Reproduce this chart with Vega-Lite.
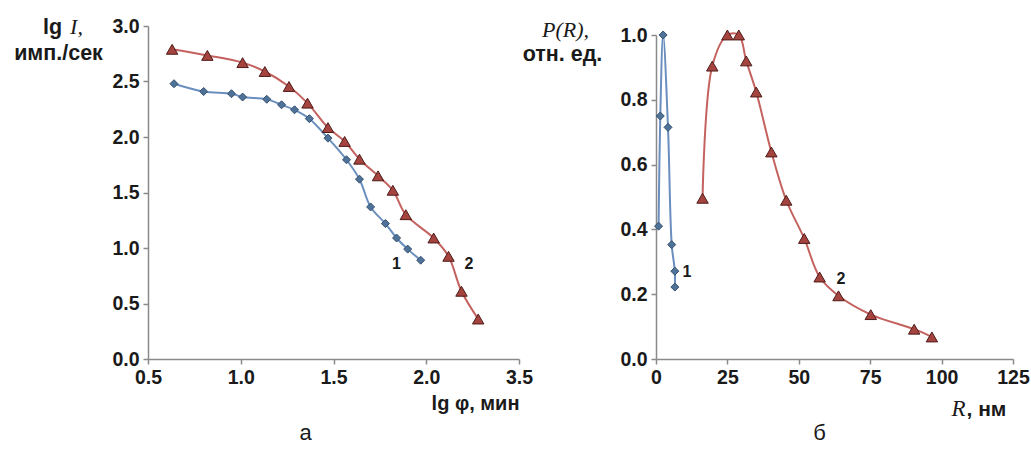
{
  "$schema": "https://vega.github.io/schema/vega-lite/v6.json",
  "background": "white",
  "padding": {"left": 13, "top": 15, "right": 0, "bottom": 0},
  "bounds": "flush",
  "spacing": 137,
  "config": {
    "view": {"stroke": null},
    "axis": {
      "labelFont": "Liberation Sans", "labelFontSize": 19.5, "labelFontWeight": "bold", "labelColor": "#1a1a1a",
      "domainColor": "#8a8a8a", "domainWidth": 1.5, "tickColor": "#8a8a8a", "tickWidth": 1.5, "tickSize": 5,
      "labelPadding": 4, "grid": false, "labelFlush": false, "labelOverlap": false,
      "titleFont": "Liberation Sans", "titleFontSize": 19.5, "titleFontWeight": "bold", "titleColor": "#1a1a1a", "titlePadding": 0
    }
  },
  "hconcat": [
    {
      "width": 371,
      "height": 333,
      "data": {"values": [
        {"s": 1, "o": 1, "x": 0.64, "y": 2.48},
        {"s": 1, "o": 2, "x": 0.80, "y": 2.41},
        {"s": 1, "o": 3, "x": 0.95, "y": 2.39},
        {"s": 1, "o": 4, "x": 1.01, "y": 2.36},
        {"s": 1, "o": 5, "x": 1.14, "y": 2.34},
        {"s": 1, "o": 6, "x": 1.22, "y": 2.29},
        {"s": 1, "o": 7, "x": 1.29, "y": 2.245},
        {"s": 1, "o": 8, "x": 1.37, "y": 2.165},
        {"s": 1, "o": 9, "x": 1.47, "y": 1.99},
        {"s": 1, "o": 10, "x": 1.57, "y": 1.795},
        {"s": 1, "o": 11, "x": 1.64, "y": 1.62},
        {"s": 1, "o": 12, "x": 1.70, "y": 1.37},
        {"s": 1, "o": 13, "x": 1.78, "y": 1.22},
        {"s": 1, "o": 14, "x": 1.84, "y": 1.09},
        {"s": 1, "o": 15, "x": 1.90, "y": 0.99},
        {"s": 1, "o": 16, "x": 1.97, "y": 0.89},
        {"s": 2, "o": 1, "x": 0.63, "y": 2.79},
        {"s": 2, "o": 2, "x": 0.82, "y": 2.735},
        {"s": 2, "o": 3, "x": 1.01, "y": 2.67},
        {"s": 2, "o": 4, "x": 1.13, "y": 2.59},
        {"s": 2, "o": 5, "x": 1.26, "y": 2.455},
        {"s": 2, "o": 6, "x": 1.36, "y": 2.305},
        {"s": 2, "o": 7, "x": 1.47, "y": 2.085},
        {"s": 2, "o": 8, "x": 1.56, "y": 1.96},
        {"s": 2, "o": 9, "x": 1.64, "y": 1.80},
        {"s": 2, "o": 10, "x": 1.74, "y": 1.65},
        {"s": 2, "o": 11, "x": 1.82, "y": 1.52},
        {"s": 2, "o": 12, "x": 1.89, "y": 1.30},
        {"s": 2, "o": 13, "x": 2.04, "y": 1.09},
        {"s": 2, "o": 14, "x": 2.12, "y": 0.925},
        {"s": 2, "o": 15, "x": 2.19, "y": 0.61},
        {"s": 2, "o": 16, "x": 2.28, "y": 0.36}
      ]},
      "resolve": {"axis": {"x": "independent", "y": "independent"}},
      "layer": [
        {
          "transform": [{"filter": "datum.s == 1"}],
          "mark": {"type": "line", "interpolate": "catmull-rom", "color": "#6a8fbe", "strokeWidth": 2},
          "encoding": {
            "x": {"field": "x", "type": "quantitative", "scale": {"domain": [0.5, 2.5], "nice": false, "zero": false},
              "axis": {"orient": "bottom", "values": [0.5, 1, 1.5, 2, 2.5], "labelExpr": "datum.value == 2.5 ? '3.5' : format(datum.value, '.1f')",
                "title": "lg φ, мин", "titleFontSize": 20, "titleX": 371, "titleY": 50, "titleAlign": "right", "titleBaseline": "alphabetic"}},
            "y": {"field": "y", "type": "quantitative", "scale": {"domain": [0, 3], "nice": false, "zero": false},
              "axis": {"orient": "left", "values": [0, 0.5, 1, 1.5, 2, 2.5, 3], "format": ".1f",
                "title": "имп./сек", "titleFontSize": 21.5, "titleAngle": 0, "titleAlign": "center", "titleBaseline": "alphabetic", "titleX": -90, "titleY": 33}},
            "order": {"field": "o", "type": "quantitative"}
          }
        },
        {
          "transform": [{"filter": "datum.s == 2"}],
          "mark": {"type": "line", "interpolate": "catmull-rom", "color": "#c4625f", "strokeWidth": 2},
          "encoding": {
            "x": {"field": "x", "type": "quantitative", "scale": {"domain": [0.5, 2.5], "nice": false, "zero": false},
              "axis": {"orient": "bottom", "domain": false, "ticks": false, "labels": false, "title": "а",
                "titleFontWeight": "normal", "titleFontSize": 22, "titleX": 157, "titleY": 80, "titleAlign": "center", "titleBaseline": "alphabetic"}},
            "y": {"field": "y", "type": "quantitative", "scale": {"domain": [0, 3], "nice": false, "zero": false},
              "axis": {"orient": "left", "domain": false, "ticks": false, "labels": false, "title": "lg",
                "titleFontSize": 21.5, "titleAngle": 0, "titleAlign": "center", "titleBaseline": "alphabetic", "titleX": -96, "titleY": 7}},
            "order": {"field": "o", "type": "quantitative"}
          }
        },
        {
          "transform": [{"filter": "datum.s == 1"}],
          "mark": {"type": "point", "shape": "diamond", "filled": true, "size": 64, "fill": "#4f7299", "stroke": "#34506f", "strokeWidth": 1, "opacity": 1},
          "encoding": {
            "x": {"field": "x", "type": "quantitative", "scale": {"domain": [0.5, 2.5], "nice": false, "zero": false}, "axis": null},
            "y": {"field": "y", "type": "quantitative", "scale": {"domain": [0, 3], "nice": false, "zero": false},
              "axis": {"orient": "left", "domain": false, "ticks": false, "labels": false, "title": "I,",
                "titleFont": "Liberation Serif", "titleFontStyle": "italic", "titleFontWeight": "normal", "titleFontSize": 22,
                "titleAngle": 0, "titleAlign": "center", "titleBaseline": "alphabetic", "titleX": -72, "titleY": 7}}
          }
        },
        {
          "transform": [{"filter": "datum.s == 2"}],
          "mark": {"type": "point", "shape": "triangle-up", "filled": true, "size": 130, "fill": "#a5433f", "stroke": "#4d1c1a", "strokeWidth": 1, "opacity": 1},
          "encoding": {
            "x": {"field": "x", "type": "quantitative", "scale": {"domain": [0.5, 2.5], "nice": false, "zero": false}, "axis": null},
            "y": {"field": "y", "type": "quantitative", "scale": {"domain": [0, 3], "nice": false, "zero": false}, "axis": null}
          }
        },
        {
          "data": {"values": [
            {"x": 1.84, "y": 0.86, "t": "1"},
            {"x": 2.23, "y": 0.86, "t": "2"}
          ]},
          "mark": {"type": "text", "font": "Liberation Sans", "fontWeight": "bold", "fontSize": 16, "color": "#1a1a1a", "align": "center", "baseline": "middle"},
          "encoding": {
            "x": {"field": "x", "type": "quantitative", "scale": {"domain": [0.5, 2.5], "nice": false, "zero": false}, "axis": null},
            "y": {"field": "y", "type": "quantitative", "scale": {"domain": [0, 3], "nice": false, "zero": false}, "axis": null},
            "text": {"field": "t"}
          }
        }
      ]
    },
    {
      "width": 357,
      "height": 333,
      "data": {"values": [
        {"s": 1, "o": 1, "x": 0.9, "y": 0.41},
        {"s": 1, "o": 2, "x": 1.5, "y": 0.75},
        {"s": 1, "o": 3, "x": 2.5, "y": 1.0},
        {"s": 1, "o": 4, "x": 4.2, "y": 0.715},
        {"s": 1, "o": 5, "x": 5.5, "y": 0.353},
        {"s": 1, "o": 6, "x": 6.6, "y": 0.271},
        {"s": 1, "o": 7, "x": 6.6, "y": 0.222},
        {"s": 2, "o": 1, "x": 16.3, "y": 0.496},
        {"s": 2, "o": 2, "x": 19.7, "y": 0.904},
        {"s": 2, "o": 3, "x": 25.0, "y": 1.0},
        {"s": 2, "o": 4, "x": 29.0, "y": 1.0},
        {"s": 2, "o": 5, "x": 31.6, "y": 0.92},
        {"s": 2, "o": 6, "x": 35.1, "y": 0.824},
        {"s": 2, "o": 7, "x": 40.4, "y": 0.639},
        {"s": 2, "o": 8, "x": 45.6, "y": 0.49},
        {"s": 2, "o": 9, "x": 51.9, "y": 0.372},
        {"s": 2, "o": 10, "x": 57.3, "y": 0.253},
        {"s": 2, "o": 11, "x": 63.9, "y": 0.195},
        {"s": 2, "o": 12, "x": 75.2, "y": 0.137},
        {"s": 2, "o": 13, "x": 90.4, "y": 0.092},
        {"s": 2, "o": 14, "x": 96.6, "y": 0.068}
      ]},
      "resolve": {"axis": {"x": "independent", "y": "independent"}},
      "layer": [
        {
          "transform": [{"filter": "datum.s == 1"}],
          "mark": {"type": "line", "interpolate": "catmull-rom", "color": "#6a8fbe", "strokeWidth": 2},
          "encoding": {
            "x": {"field": "x", "type": "quantitative", "scale": {"domain": [0, 125], "nice": false, "zero": false},
              "axis": {"orient": "bottom", "values": [0, 25, 50, 75, 100, 125], "format": "d",
                "title": ", нм", "titleFontSize": 21, "titleX": 310, "titleY": 56, "titleAlign": "left", "titleBaseline": "alphabetic"}},
            "y": {"field": "y", "type": "quantitative", "scale": {"domain": [0, 1], "nice": false, "zero": false, "range": [333, 9]},
              "axis": {"orient": "left", "values": [0, 0.2, 0.4, 0.6, 0.8, 1.0], "format": ".1f",
                "title": "отн. ед.", "titleFontSize": 21.5, "titleAngle": 0, "titleAlign": "center", "titleBaseline": "alphabetic", "titleX": -94, "titleY": 34}},
            "order": {"field": "o", "type": "quantitative"}
          }
        },
        {
          "transform": [{"filter": "datum.s == 2"}],
          "mark": {"type": "line", "interpolate": "catmull-rom", "color": "#c4625f", "strokeWidth": 2},
          "encoding": {
            "x": {"field": "x", "type": "quantitative", "scale": {"domain": [0, 125], "nice": false, "zero": false},
              "axis": {"orient": "bottom", "domain": false, "ticks": false, "labels": false, "title": "R",
                "titleFont": "Liberation Serif", "titleFontStyle": "italic", "titleFontWeight": "normal", "titleFontSize": 23,
                "titleX": 295, "titleY": 56, "titleAlign": "left", "titleBaseline": "alphabetic"}},
            "y": {"field": "y", "type": "quantitative", "scale": {"domain": [0, 1], "nice": false, "zero": false, "range": [333, 9]},
              "axis": {"orient": "left", "domain": false, "ticks": false, "labels": false, "title": "P(R),",
                "titleFont": "Liberation Serif", "titleFontStyle": "italic", "titleFontWeight": "normal", "titleFontSize": 22,
                "titleAngle": 0, "titleAlign": "center", "titleBaseline": "alphabetic", "titleX": -91, "titleY": 10}},
            "order": {"field": "o", "type": "quantitative"}
          }
        },
        {
          "transform": [{"filter": "datum.s == 1"}],
          "mark": {"type": "point", "shape": "diamond", "filled": true, "size": 64, "fill": "#4f7299", "stroke": "#34506f", "strokeWidth": 1, "opacity": 1},
          "encoding": {
            "x": {"field": "x", "type": "quantitative", "scale": {"domain": [0, 125], "nice": false, "zero": false},
              "axis": {"orient": "bottom", "domain": false, "ticks": false, "labels": false, "title": "б",
                "titleFontWeight": "normal", "titleFontSize": 22, "titleX": 163, "titleY": 80, "titleAlign": "center", "titleBaseline": "alphabetic"}},
            "y": {"field": "y", "type": "quantitative", "scale": {"domain": [0, 1], "nice": false, "zero": false, "range": [333, 9]}, "axis": null}
          }
        },
        {
          "transform": [{"filter": "datum.s == 2"}],
          "mark": {"type": "point", "shape": "triangle-up", "filled": true, "size": 130, "fill": "#a5433f", "stroke": "#4d1c1a", "strokeWidth": 1, "opacity": 1},
          "encoding": {
            "x": {"field": "x", "type": "quantitative", "scale": {"domain": [0, 125], "nice": false, "zero": false}, "axis": null},
            "y": {"field": "y", "type": "quantitative", "scale": {"domain": [0, 1], "nice": false, "zero": false, "range": [333, 9]}, "axis": null}
          }
        },
        {
          "data": {"values": [
            {"x": 10.8, "y": 0.27, "t": "1"},
            {"x": 64.8, "y": 0.246, "t": "2"}
          ]},
          "mark": {"type": "text", "font": "Liberation Sans", "fontWeight": "bold", "fontSize": 16, "color": "#1a1a1a", "align": "center", "baseline": "middle"},
          "encoding": {
            "x": {"field": "x", "type": "quantitative", "scale": {"domain": [0, 125], "nice": false, "zero": false}, "axis": null},
            "y": {"field": "y", "type": "quantitative", "scale": {"domain": [0, 1], "nice": false, "zero": false, "range": [333, 9]}, "axis": null},
            "text": {"field": "t"}
          }
        }
      ]
    }
  ]
}
